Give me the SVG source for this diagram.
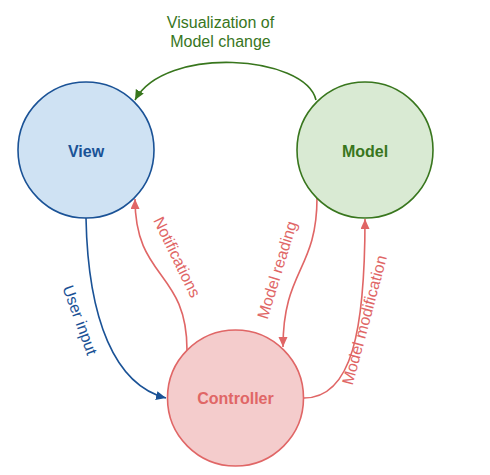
<svg xmlns="http://www.w3.org/2000/svg" width="490" height="475" viewBox="0 0 490 475">
<style>
.node{stroke-width:1.6}
.lbl{font-family:"Liberation Sans",Arial,sans-serif;font-weight:bold;font-size:16px;text-anchor:middle}
.cl{font-family:"Liberation Sans",Arial,sans-serif;font-size:16px;text-anchor:middle}
.edge{fill:none;stroke-width:1.6}
</style>
<defs>
<marker id="ag" markerUnits="userSpaceOnUse" markerWidth="12" markerHeight="10" refX="10" refY="4.5" orient="auto"><path d="M0,0 L10,4.5 L0,9 Z" fill="#38761d"/></marker>
<marker id="ab" markerUnits="userSpaceOnUse" markerWidth="12" markerHeight="10" refX="10" refY="4.5" orient="auto"><path d="M0,0 L10,4.5 L0,9 Z" fill="#1a5296"/></marker>
<marker id="ar" markerUnits="userSpaceOnUse" markerWidth="12" markerHeight="10" refX="10" refY="4.5" orient="auto"><path d="M0,0 L10,4.5 L0,9 Z" fill="#e06666"/></marker>
</defs>
<g id="connectors">
<path class="edge" d="M316,100 C305,55 165,45 135,100" stroke="#38761d" marker-end="url(#ag)"/>
<path class="edge" d="M86,218 C88,320 115,385 166,398" stroke="#1a5296" marker-end="url(#ab)"/>
<path class="edge" d="M187,350 C187,270 135,280 135,199" stroke="#e06666" marker-end="url(#ar)"/>
<path class="edge" d="M317,198 C317,270 283,270 283,347" stroke="#e06666" marker-end="url(#ar)"/>
<path class="edge" d="M304,398 C352,398 365,330 365,219" stroke="#e06666" marker-end="url(#ar)"/>
<text class="cl" fill="#38761d" x="220.5" y="28">Visualization of</text>
<text class="cl" fill="#38761d" x="220.5" y="47">Model change</text>
<text class="cl" fill="#1a5296" transform="translate(80,320) rotate(70)" x="0" y="5.5">User input</text>
<text class="cl" fill="#e06666" transform="translate(177,257) rotate(64)" x="0" y="5.5">Notifications</text>
<text class="cl" fill="#e06666" transform="translate(277,270) rotate(-73)" x="0" y="5.5">Model reading</text>
<text class="cl" fill="#e06666" transform="translate(364.5,320) rotate(-75)" x="0" y="5.5">Model modification</text>
</g>
<g id="view">
<circle class="node" cx="86" cy="150" r="68" fill="#cfe2f3" stroke="#1a5296"/>
<text class="lbl" x="86" y="156.5" fill="#1a5296">View</text>
</g>
<g id="model">
<circle class="node" cx="365" cy="150" r="68" fill="#d9ead3" stroke="#38761d"/>
<text class="lbl" x="365" y="156.5" fill="#38761d">Model</text>
</g>
<g id="controller">
<circle class="node" cx="235.5" cy="398" r="68" fill="#f4cccc" stroke="#e06666"/>
<text class="lbl" x="235.5" y="404" fill="#e06666">Controller</text>
</g>
</svg>
